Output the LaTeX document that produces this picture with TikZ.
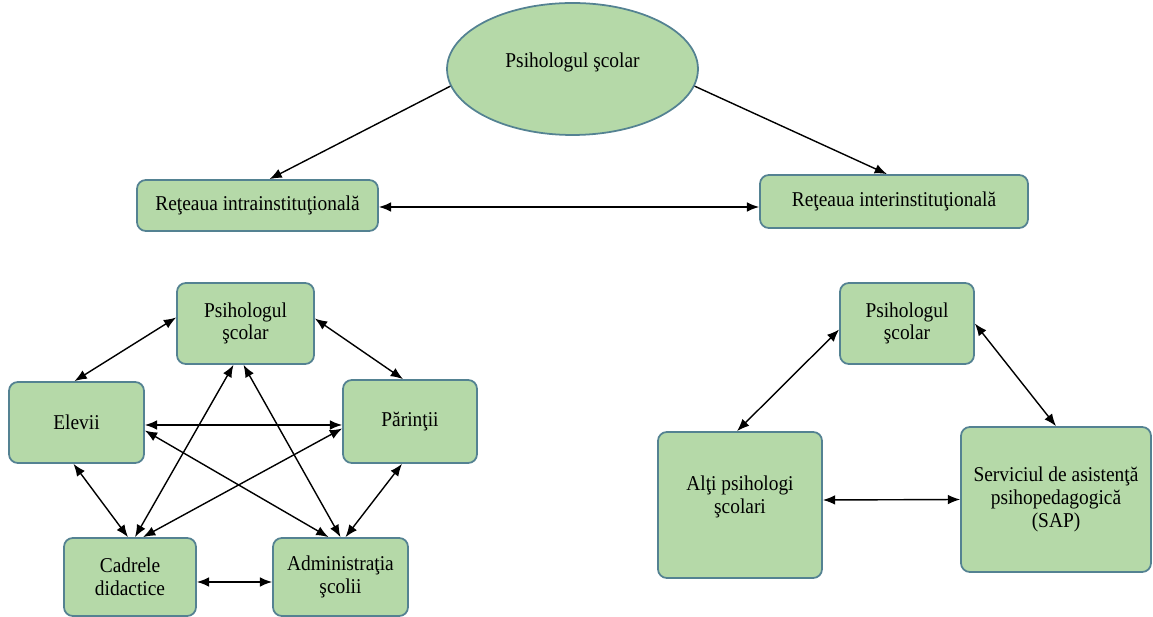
\documentclass[tikz,border=0pt]{standalone}
\usepackage{fontspec}
\setmainfont{Liberation Serif}[FakeStretch=0.92]
\usetikzlibrary{shapes.geometric,arrows.meta,calc}

\definecolor{verde}{RGB}{181,217,168}
\definecolor{contur}{RGB}{84,130,146}

\tikzset{
  cutie/.style={draw=contur, fill=verde, line width=1pt, rounded corners=5pt,
    inner sep=0pt, align=center, font=\fontsize{12}{13}\selectfont},
  ovul/.style={ellipse, draw=contur, fill=verde, line width=1pt,
    inner sep=0pt, font=\fontsize{12}{13}\selectfont},
  sag/.style={line width=0.8pt, {Latex[length=7pt,width=5.5pt]}-{Latex[length=7pt,width=5.5pt]}},
  sags/.style={line width=0.8pt, -{Latex[length=7pt,width=5.5pt]}}
}

\begin{document}
\begin{tikzpicture}[x=0.02cm, y=-0.02cm]
        \useasboundingbox (0,0) rectangle (1153,617);

        % Partea de sus
        \node[ovul, minimum width=5.02cm, minimum height=2.64cm, text depth=10pt] (ell) at (572.5,69) {Psihologul şcolar};
        \node[cutie, minimum width=4.82cm, minimum height=1.02cm] (intra) at (257.5,205.5) {Reţeaua intrainstituţională};
        \node[cutie, minimum width=5.36cm, minimum height=1.06cm] (inter) at (894,201.5) {Reţeaua interinstituţională};

        \draw[sags] (ell.188) -- ($(intra.north)+(12,0)$);
        \draw[sags] (ell.352) -- ($(inter.north)+(-7,0)$);
        \draw[sag] ($(intra.east)+(0,1.5)$) -- ($(inter.west)+(0,5.5)$);

        % Reteaua intrainstitutionala
        \node[cutie, minimum width=2.74cm, minimum height=1.62cm] (ps1) at (245.5,323.5) {Psihologul\\şcolar};
        \node[cutie, minimum width=2.70cm, minimum height=1.62cm] (elev) at (76.5,422.5) {Elevii};
        \node[cutie, minimum width=2.68cm, minimum height=1.66cm] (par) at (410,421.5) {Părinţii};
        \node[cutie, minimum width=2.64cm, minimum height=1.56cm] (cad) at (130,577) {Cadrele\\didactice};
        \node[cutie, minimum width=2.70cm, minimum height=1.56cm] (adm) at (340.5,577) {Administraţia\\şcolii};

        \draw[sag] ($(ps1.west)+(0,-6)$) -- ($(elev.north)+(-2,0)$);
        \draw[sag] ($(ps1.east)+(0,-5)$) -- ($(par.north)+(-7,0)$);
        \draw[sag] ($(elev.south)+(-3,0)$) -- ($(cad.north)+(-2,0)$);
        \draw[sag] ($(par.south)+(-8,0)$) -- ($(adm.north)+(5,0)$);
        \draw[sag] ($(cad.east)+(0,5)$) -- ($(adm.west)+(0,5)$);
        \draw[sag] ($(elev.east)+(0,2.5)$) -- ($(par.west)+(0,3.5)$);
        \draw[sag] ($(elev.east)+(0,8)$) -- ($(adm.north)+(-12,0)$);
        \draw[sag] ($(par.west)+(0,7)$) -- ($(cad.north)+(13,0)$);
        \draw[sag] ($(ps1.south)+(-12,0)$) -- ($(cad.north)+(5,0)$);
        \draw[sag] ($(ps1.south)+(-2,0)$) -- (adm.north);

        % Reteaua interinstitutionala
        \node[cutie, minimum width=2.68cm, minimum height=1.62cm] (ps2) at (907,323.5) {Psihologul\\şcolar};
        \node[cutie, minimum width=3.28cm, minimum height=2.92cm, text depth=12pt] (alti) at (740,505) {Alţi psihologi\\şcolari};
        \node[cutie, minimum width=3.80cm, minimum height=2.90cm] (sap) at (1056,499.5) {Serviciul de asistenţă\\psihopedagogică\\(SAP)};

        \draw[sag] ($(ps2.west)+(0,6)$) -- ($(alti.north)+(-3,0)$);
        \draw[sag] (ps2.east) -- (sap.north);
        \draw[sag] ($(alti.east)+(0,-5)$) -- (sap.west);
    \end{tikzpicture}
\end{document}
